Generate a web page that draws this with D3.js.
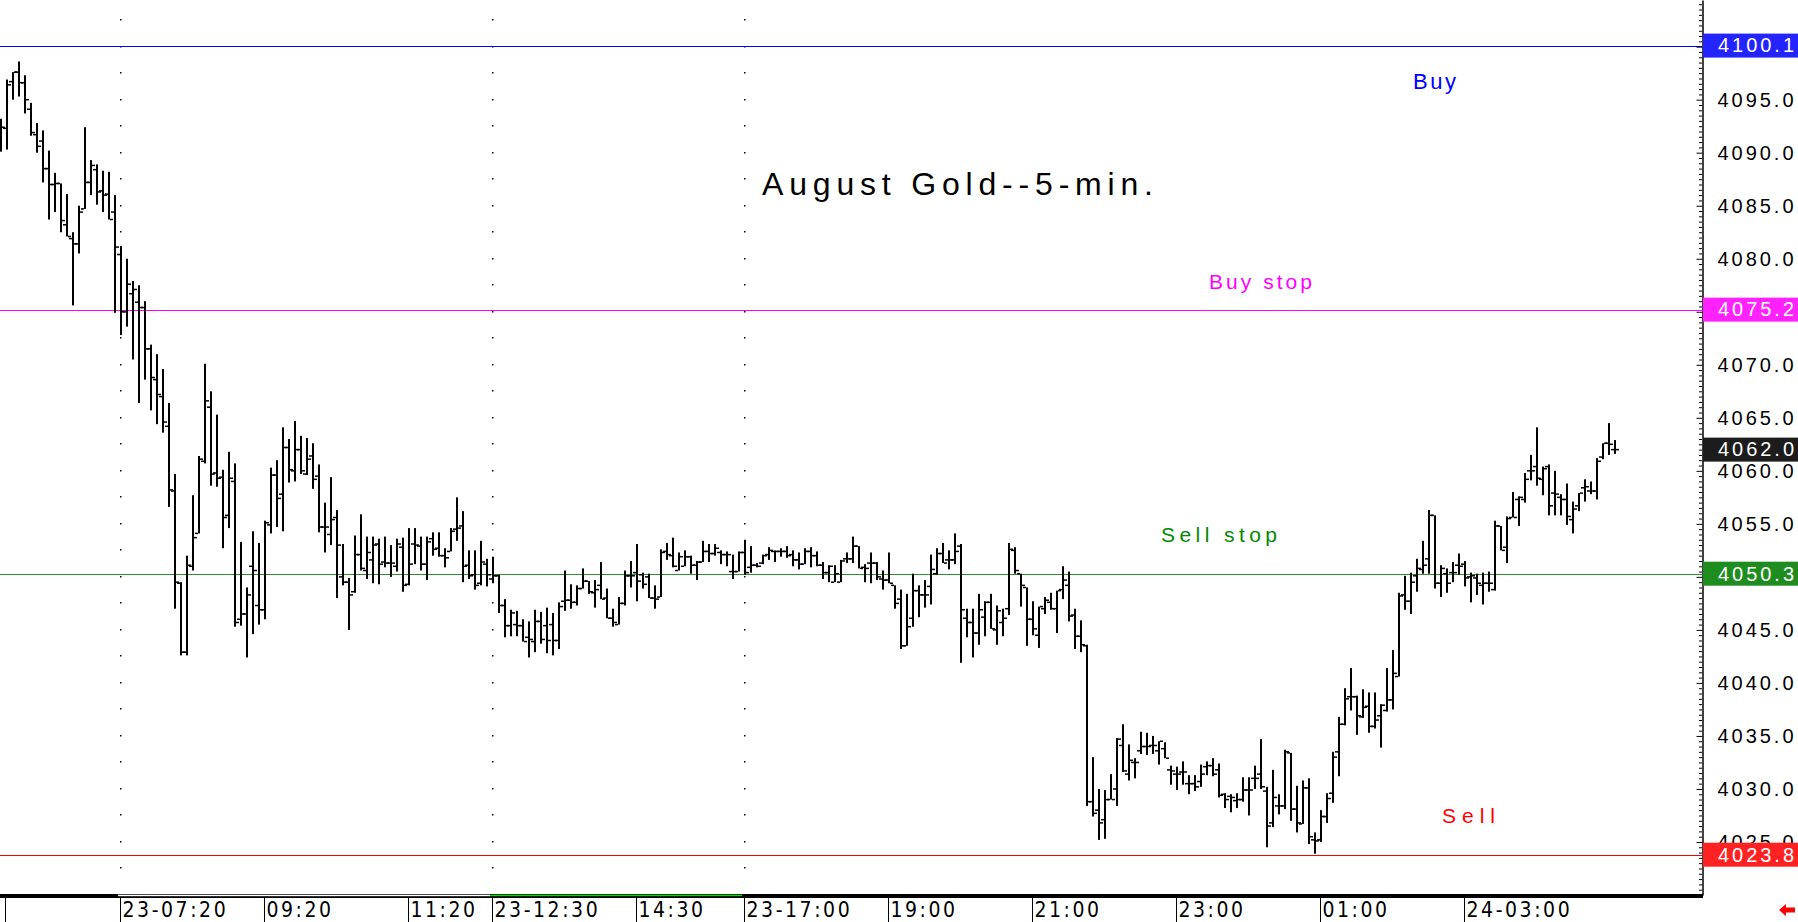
<!DOCTYPE html>
<html>
<head>
<meta charset="utf-8">
<script src="https://cdn.jsdelivr.net/npm/d3@7"></script>
<style>
  body { margin: 0; background: #fff; }
  svg { display: block; }
</style>
</head>
<body>
<svg id="chart" width="1798" height="922"></svg>
<script>
/* August gold, 5-minute OHLC bars. Bar by bar. */

const highV = [
  4093.2,4096.9,4097.6,4098.6,4097.3,4094.7,4092.8,4092.1,4090.2,4088.1,
  4087.1,4086.1,4082.5,4085.0,4092.4,4089.3,4088.9,4088.3,4088.2,4086.0,
  4081.2,4080.0,4077.9,4077.5,4076.0,4071.9,4071.0,4069.6,4066.4,4059.7,
  4049.5,4052.0,4057.7,4061.4,4070.1,4067.5,4065.3,4060.1,4061.8,4060.7,
  4053.3,4049.0,4054.3,4053.2,4055.3,4060.3,4061.0,4064.1,4063.0,4064.7,
  4063.3,4063.1,4062.6,4060.6,4057.0,4059.4,4056.3,4053.1,4049.9,4053.9,
  4055.9,4053.8,4053.8,4053.6,4053.8,4053.0,4053.6,4053.7,4054.6,4054.6,
  4053.8,4053.8,4054.2,4054.2,4052.7,4054.6,4057.5,4056.2,4052.5,4052.5,
  4053.4,4051.7,4051.9,4050.2,4047.9,4046.9,4046.8,4046.0,4045.8,4046.9,
  4046.7,4047.1,4046.6,4047.6,4050.6,4049.3,4049.2,4050.8,4049.6,4049.7,
  4051.4,4048.9,4047.0,4048.1,4050.6,4051.5,4053.1,4050.4,4050.3,4049.2,
  4052.6,4053.2,4053.7,4052.3,4052.5,4052.0,4051.5,4053.4,4053.1,4053.1,
  4052.5,4052.4,4052.1,4052.4,4053.5,4052.9,4051.3,4052.1,4052.8,4052.5,
  4052.7,4052.9,4052.5,4052.3,4052.7,4052.8,4052.4,4051.4,4051.1,4051.1,
  4051.6,4052.3,4053.8,4052.9,4051.2,4052.3,4051.4,4050.6,4052.3,4049.2,
  4048.8,4048.4,4050.3,4049.2,4049.7,4052.1,4052.7,4053.2,4052.5,4054.1,
  4053.1,4047.0,4047.0,4048.4,4047.7,4048.4,4047.3,4047.0,4053.2,4052.8,
  4050.3,4049.0,4047.7,4047.2,4048.1,4048.5,4048.7,4051.0,4050.5,4047.0,
  4045.9,4043.6,4033.0,4030.0,4029.9,4031.4,4034.8,4036.1,4034.2,4032.9,
  4035.4,4035.3,4035.0,4034.5,4034.4,4032.2,4032.1,4032.6,4031.3,4031.3,
  4032.3,4032.6,4032.9,4032.4,4029.6,4029.5,4029.6,4031.1,4031.1,4032.2,
  4034.7,4030.2,4031.8,4029.5,4033.7,4033.4,4030.3,4030.8,4031.0,4025.9,
  4028.0,4029.6,4033.5,4036.8,4039.5,4041.4,4038.8,4039.4,4039.1,4039.1,
  4038.0,4041.4,4043.1,4048.5,4050.1,4050.4,4051.7,4053.4,4056.3,4055.8,
  4051.1,4050.8,4051.4,4052.2,4051.5,4050.4,4050.3,4050.4,4050.5,4055.3,
  4054.8,4055.7,4058.0,4057.6,4059.8,4061.5,4064.1,4060.4,4060.6,4060.0,
  4057.8,4058.8,4057.1,4057.9,4059.2,4059.0,4061.2,4062.6,4064.5,4062.9
];

const lowV = [
  4090.1,4090.3,4095.0,4095.3,4093.7,4091.6,4090.0,4087.2,4083.7,4084.4,
  4082.5,4082.1,4075.6,4080.5,4084.7,4086.0,4085.1,4084.4,4083.7,4074.9,
  4072.8,4073.6,4070.5,4066.4,4068.6,4065.7,4064.4,4063.6,4056.6,4047.0,
  4042.6,4042.6,4050.6,4054.1,4060.7,4058.6,4058.5,4052.7,4054.6,4045.3,
  4045.4,4042.4,4044.6,4045.5,4046.0,4054.1,4054.7,4054.3,4058.9,4059.0,
  4059.7,4059.6,4058.3,4054.2,4052.3,4053.0,4048.0,4049.2,4045.0,4048.5,
  4050.6,4049.8,4049.4,4049.3,4050.9,4050.0,4050.5,4048.6,4049.2,4051.2,
  4050.6,4049.7,4052.0,4051.9,4050.9,4052.4,4053.4,4049.5,4049.8,4048.8,
  4049.2,4049.1,4049.4,4046.6,4044.3,4044.4,4044.4,4043.9,4042.4,4042.9,
  4043.7,4042.8,4042.6,4043.2,4046.8,4047.0,4047.3,4048.9,4048.4,4047.1,
  4047.9,4046.1,4045.3,4045.5,4047.3,4049.0,4047.7,4048.9,4048.0,4047.0,
  4048.1,4051.6,4050.9,4050.6,4051.0,4050.3,4049.7,4051.4,4051.4,4052.0,
  4051.2,4051.0,4049.8,4050.5,4050.2,4050.4,4050.9,4051.2,4051.6,4051.4,
  4051.9,4051.8,4051.0,4050.7,4051.2,4050.9,4051.0,4049.8,4049.5,4049.5,
  4049.5,4051.3,4051.3,4050.8,4049.5,4049.4,4049.7,4048.8,4049.4,4047.0,
  4043.2,4043.5,4045.3,4046.2,4047.1,4047.4,4050.2,4051.3,4050.7,4051.2,
  4041.9,4044.3,4042.4,4043.6,4044.4,4045.1,4043.6,4044.4,4046.4,4050.3,
  4047.2,4043.5,4044.5,4043.3,4046.5,4046.9,4044.7,4047.9,4045.8,4043.2,
  4042.9,4028.4,4027.4,4025.2,4025.3,4029.0,4028.4,4031.6,4030.8,4031.0,
  4033.3,4033.2,4033.3,4032.3,4032.9,4030.4,4029.9,4030.4,4029.5,4029.8,
  4030.2,4031.3,4031.2,4029.2,4028.2,4027.8,4028.2,4028.8,4027.5,4030.0,
  4030.0,4024.5,4026.4,4027.6,4028.1,4027.0,4025.9,4026.7,4024.8,4023.9,
  4025.0,4026.8,4028.7,4031.2,4036.0,4037.4,4035.1,4036.7,4035.3,4035.7,
  4033.9,4037.3,4037.5,4040.6,4046.9,4046.5,4048.6,4050.3,4050.3,4048.9,
  4048.1,4048.5,4049.5,4050.2,4049.1,4047.6,4048.3,4047.4,4048.6,4048.7,
  4052.5,4051.3,4055.6,4054.8,4057.0,4059.1,4058.6,4057.7,4055.8,4055.8,
  4055.8,4054.9,4054.1,4056.2,4057.1,4057.8,4057.3,4061.1,4061.5,4061.6
];

const openV = [
  4091.5,4092.3,4096.7,4097.6,4096.6,4094.1,4091.7,4091.1,4088.5,4087.0,
  4087.1,4083.2,4081.9,4081.4,4084.7,4087.2,4088.4,4086.4,4086.1,4084.4,
  4080.4,4075.0,4076.7,4075.9,4075.4,4071.5,4068.6,4067.0,4064.2,4058.1,
  4049.4,4042.9,4051.0,4054.1,4060.9,4066.0,4059.8,4059.4,4055.8,4059.0,
  4046.0,4046.5,4051.0,4047.3,4046.9,4054.9,4059.6,4057.8,4062.2,4060.0,
  4062.0,4059.7,4061.4,4059.5,4054.7,4054.0,4055.6,4050.0,4049.5,4048.6,
  4052.1,4050.6,4051.6,4053.1,4051.4,4051.3,4051.0,4052.8,4049.3,4053.1,
  4052.9,4051.2,4053.6,4052.7,4052.0,4052.4,4054.5,4054.8,4051.1,4050.2,
  4049.4,4051.2,4049.8,4050.1,4047.3,4045.4,4045.5,4045.4,4044.3,4043.9,
  4045.8,4045.4,4045.5,4044.0,4047.7,4047.8,4047.6,4048.9,4049.6,4048.5,
  4049.2,4048.0,4046.1,4045.5,4047.5,4050.1,4050.4,4050.2,4050.0,4048.0,
  4048.1,4052.4,4052.0,4050.6,4051.0,4051.9,4051.1,4051.4,4052.4,4052.2,
  4052.3,4052.1,4050.5,4050.5,4052.3,4050.9,4051.1,4051.3,4052.1,4052.4,
  4052.4,4052.4,4052.1,4051.6,4051.2,4052.4,4052.0,4051.1,4050.4,4049.5,
  4049.5,4051.7,4051.7,4052.9,4050.9,4051.3,4051.3,4049.8,4049.7,4049.2,
  4047.9,4043.5,4046.1,4048.7,4048.3,4049.1,4050.3,4052.2,4051.6,4051.6,
  4052.9,4046.1,4045.7,4044.7,4046.2,4047.6,4045.0,4045.7,4047.0,4052.5,
  4050.3,4049.0,4046.0,4044.5,4047.0,4047.6,4047.0,4048.8,4049.2,4046.4,
  4044.4,4043.5,4028.8,4028.0,4027.1,4029.0,4030.0,4034.1,4031.4,4032.5,
  4033.6,4034.0,4034.1,4033.6,4033.8,4031.8,4031.4,4031.6,4030.5,4030.5,
  4030.7,4032.1,4032.2,4031.8,4029.5,4029.3,4028.9,4029.0,4029.9,4031.0,
  4031.4,4029.8,4026.8,4028.4,4028.4,4033.4,4028.1,4026.7,4030.1,4025.2,
  4025.2,4027.4,4029.6,4033.5,4036.1,4038.7,4038.7,4036.8,4037.8,4035.9,
  4036.9,4037.4,4038.4,4040.6,4048.3,4047.7,4050.1,4050.7,4051.7,4055.8,
  4049.4,4050.3,4050.4,4051.1,4051.2,4050.0,4049.9,4049.2,4049.4,4048.8,
  4054.8,4052.8,4055.6,4057.3,4057.3,4060.0,4060.4,4059.2,4060.4,4057.9,
  4057.5,4057.3,4055.4,4056.7,4058.4,4058.1,4058.1,4061.3,4062.6,4062.0
];

const closeV = [
  4092.4,4096.4,4097.6,4096.6,4095.0,4091.9,4090.6,4088.5,4087.0,4087.1,
  4083.6,4082.1,4081.4,4084.4,4087.2,4088.8,4086.3,4086.0,4083.7,4081.1,
  4075.0,4077.6,4077.1,4075.4,4071.5,4068.8,4067.2,4064.6,4058.2,4049.5,
  4042.9,4051.1,4053.7,4061.1,4066.6,4059.7,4059.3,4055.6,4059.3,4045.7,
  4046.5,4048.3,4050.6,4046.9,4055.1,4059.6,4057.4,4062.2,4060.1,4062.0,
  4060.0,4061.1,4059.2,4054.7,4054.7,4055.4,4053.0,4049.5,4048.3,4052.1,
  4050.8,4052.3,4053.0,4051.2,4051.3,4051.3,4053.1,4049.2,4051.2,4053.0,
  4051.2,4053.3,4052.6,4052.0,4051.8,4054.3,4054.6,4051.0,4050.1,4049.2,
  4051.4,4050.2,4050.1,4047.3,4045.4,4046.6,4045.4,4043.9,4044.1,4045.8,
  4044.1,4044.0,4044.0,4047.2,4047.8,4047.6,4048.9,4049.6,4048.6,4048.8,
  4047.9,4046.1,4045.7,4047.5,4050.1,4050.1,4049.6,4049.3,4048.0,4047.9,
  4052.3,4052.1,4051.0,4051.9,4051.9,4051.1,4051.4,4052.4,4052.2,4052.7,
  4052.1,4052.1,4050.5,4052.3,4050.4,4051.1,4051.0,4052.0,4052.5,4052.4,
  4052.4,4052.0,4051.6,4051.2,4052.4,4052.0,4051.1,4050.4,4051.0,4050.3,
  4051.5,4051.7,4052.9,4050.8,4050.8,4051.3,4050.0,4049.7,4049.4,4047.5,
  4043.5,4045.3,4048.7,4048.3,4048.3,4050.7,4052.2,4051.3,4051.6,4052.4,
  4046.9,4045.7,4044.7,4046.9,4047.6,4045.1,4046.8,4046.1,4052.6,4050.6,
  4049.2,4046.0,4045.1,4047.2,4047.8,4047.0,4048.7,4049.7,4046.3,4044.4,
  4043.6,4028.8,4027.7,4026.8,4029.0,4029.0,4034.7,4031.7,4032.7,4032.5,
  4034.0,4034.0,4034.1,4034.5,4032.9,4031.7,4031.4,4031.6,4030.5,4030.2,
  4031.4,4032.2,4031.4,4029.4,4029.0,4029.2,4029.0,4029.9,4029.9,4031.0,
  4030.2,4026.5,4029.2,4028.4,4033.5,4028.1,4026.8,4030.1,4025.5,4025.1,
  4027.4,4029.1,4033.0,4036.1,4038.5,4038.7,4036.9,4037.7,4035.9,4036.5,
  4037.9,4038.4,4040.9,4048.2,4047.7,4049.5,4050.8,4051.1,4055.8,4049.4,
  4050.8,4049.4,4050.4,4051.0,4049.9,4050.1,4049.4,4049.4,4049.4,4054.8,
  4052.5,4055.5,4055.6,4057.5,4059.2,4060.0,4059.3,4060.2,4056.7,4057.8,
  4057.3,4055.7,4056.4,4057.9,4058.5,4058.1,4060.9,4062.6,4062.5,4062.0
];

// time axis: bar index of each labelled bar and its text
const tickIdx = [20, 44, 68, 82, 106, 124, 148, 172, 196, 220, 244];
const tickText = ['23-07:20', '09:20', '11:20', '23-12:30', '14:30', '23-17:00',
  '19:00', '21:00', '23:00', '01:00', '24-03:00'];
const gridIdx = [20, 82, 124];            // dotted session lines
const sessionBands = [[19.5, 81.5], [81.5, 123.5]];

// price levels drawn across the chart
const levelValues = [4100.1, 4075.2, 4050.3, 4023.8];
const levelNames = ['Buy', 'Buy stop', 'Sell stop', 'Sell'];
const priceTicks = d3.range(4025, 4101, 5);

const title = 'August Gold--5-min.';

/* ---- layout ---- */
const W = 1798, H = 922;
const PLOT_RIGHT = 1702, PLOT_BOTTOM = 895;
const BAR_STEP = 6;

const colors = {
  bar: '#000',
  levelLine: ['#0000ff', '#ff00ff', '#2f8f2f', '#ff0000'],
  levelText: ['#0000ff', '#ff00ff', '#008a00', '#ff0000'],
  levelBox: ['#2424ff', '#ff22ff', '#1e8c1e', '#ff2222'],
  lastBox: '#1c1c1c',
  bands: ['#ffffff', '#00dd00'],
};

// where each level's caption sits (start x, baseline offset from the line, width)
const levelLabelLayout = [
  { x: 1413, dy: 43, w: 43, size: 22 },
  { x: 1209, dy: -21, w: 103, size: 21 },
  { x: 1161, dy: -32, w: 116, size: 21 },
  { x: 1442, dy: -32, w: 53, size: 21 },
];

const svg = d3.select('#chart');
svg.append('rect').attr('width', W).attr('height', H).attr('fill', '#fff');

const n = highV.length;
const x = d3.scaleLinear().domain([0, n - 1]).range([1, 1 + BAR_STEP * (n - 1)]);
const y = d3.scaleLinear().domain([4020, 4104.4]).range([PLOT_BOTTOM, 0]);

const plot = svg.append('g');

// dotted vertical session lines
const dotPrices = d3.range(4020, 4103, 2.5);
gridIdx.forEach((gi) => {
  plot.append('g')
    .selectAll('rect')
    .data(dotPrices)
    .join('rect')
    .attr('x', Math.round(x(gi)) - 1)
    .attr('y', (d) => Math.round(y(d)) - 1)
    .attr('width', 1.5)
    .attr('height', 1.5)
    .attr('fill', '#000');
});

// level lines
plot.selectAll('line.level')
  .data(levelValues)
  .join('line')
  .attr('class', 'level')
  .attr('x1', 0)
  .attr('x2', PLOT_RIGHT)
  .attr('y1', (d) => Math.round(y(d)) + 0.5)
  .attr('y2', (d) => Math.round(y(d)) + 0.5)
  .attr('stroke', (d, i) => colors.levelLine[i])
  .attr('stroke-width', 1.2);

// OHLC bars
const bars = plot.append('g').selectAll('g').data(d3.range(n)).join('g');
bars.append('rect')
  .attr('x', (i) => x(i) - 1)
  .attr('y', (i) => y(highV[i]))
  .attr('width', 2)
  .attr('height', (i) => Math.max(1.5, y(lowV[i]) - y(highV[i])))
  .attr('fill', colors.bar);
bars.append('rect')
  .attr('x', (i) => x(i) - 4)
  .attr('y', (i) => y(openV[i]) - 0.75)
  .attr('width', 3)
  .attr('height', 1.5)
  .attr('fill', colors.bar);
bars.append('rect')
  .attr('x', (i) => x(i) + 1)
  .attr('y', (i) => y(closeV[i]) - 0.75)
  .attr('width', 3)
  .attr('height', 1.5)
  .attr('fill', colors.bar);

// title and level captions
svg.append('text')
  .attr('x', 762)
  .attr('y', 195)
  .attr('font-family', '"Liberation Sans", Arial, sans-serif')
  .attr('font-size', 32)
  .attr('textLength', 391)
  .attr('lengthAdjust', 'spacing')
  .attr('fill', '#000')
  .text(title);

svg.selectAll('text.levelName')
  .data(levelNames)
  .join('text')
  .attr('class', 'levelName')
  .attr('x', (d, i) => levelLabelLayout[i].x)
  .attr('y', (d, i) => y(levelValues[i]) + levelLabelLayout[i].dy)
  .attr('font-family', '"Liberation Sans", Arial, sans-serif')
  .attr('font-size', (d, i) => levelLabelLayout[i].size)
  .attr('textLength', (d, i) => levelLabelLayout[i].w)
  .attr('lengthAdjust', 'spacing')
  .attr('fill', (d, i) => colors.levelText[i])
  .text((d) => d);

// right price axis: minor ticks, then labelled major ticks
const minorAxis = d3.axisRight(y)
  .tickValues(d3.range(4020, 4104.5, 0.5).filter((v) => v % 5 !== 0))
  .tickSize(-3)
  .tickSizeOuter(0)
  .tickFormat('');
svg.append('g')
  .attr('transform', `translate(${PLOT_RIGHT},0)`)
  .call(minorAxis)
  .call((g) => g.select('.domain').remove());

const majorAxis = d3.axisRight(y)
  .tickValues(priceTicks)
  .tickSize(-6)
  .tickSizeOuter(0)
  .tickPadding(15)
  .tickFormat(d3.format('.1f'));
const gAxis = svg.append('g')
  .attr('transform', `translate(${PLOT_RIGHT + 0.5},0)`)
  .call(majorAxis);
gAxis.select('.domain').attr('stroke-width', 1.5);
gAxis.selectAll('text')
  .attr('font-family', '"Liberation Sans", Arial, sans-serif')
  .attr('font-size', 20)
  .attr('fill', '#000')
  .attr('textLength', 76)
  .attr('lengthAdjust', 'spacing');

// value boxes for levels and the last close
const boxValues = levelValues.concat([closeV[n - 1]]);
const boxColors = colors.levelBox.concat([colors.lastBox]);
const boxes = svg.append('g').selectAll('g').data(boxValues).join('g')
  .attr('transform', (d) => `translate(${PLOT_RIGHT + 1},${y(d)})`);
boxes.append('rect')
  .attr('x', 0)
  .attr('y', -12)
  .attr('width', 95)
  .attr('height', 24)
  .attr('fill', (d, i) => boxColors[i]);
boxes.append('text')
  .attr('x', 15)
  .attr('dy', '0.34em')
  .attr('font-family', '"Liberation Sans", Arial, sans-serif')
  .attr('font-size', 20)
  .attr('fill', '#fff')
  .attr('textLength', 76)
  .attr('lengthAdjust', 'spacing')
  .text((d) => d3.format('.1f')(d));

// bottom time axis
svg.append('rect')
  .attr('x', 0)
  .attr('y', PLOT_BOTTOM - 1)
  .attr('width', PLOT_RIGHT + 1)
  .attr('height', 4)
  .attr('fill', '#000');
svg.selectAll('rect.band')
  .data(sessionBands)
  .join('rect')
  .attr('class', 'band')
  .attr('x', (d) => x(d[0]))
  .attr('y', PLOT_BOTTOM - 0.3)
  .attr('width', (d) => x(d[1]) - x(d[0]))
  .attr('height', 1.5)
  .attr('fill', (d, i) => colors.bands[i]);

const xAxisG = svg.append('g');
xAxisG.append('line')
  .attr('x1', 5.5).attr('x2', 5.5)
  .attr('y1', PLOT_BOTTOM + 3).attr('y2', H)
  .attr('stroke', '#000');
const ticks = xAxisG.selectAll('g').data(tickIdx).join('g')
  .attr('transform', (d) => `translate(${Math.round(x(d)) - 0.5},0)`);
ticks.append('line')
  .attr('y1', PLOT_BOTTOM + 3)
  .attr('y2', H)
  .attr('stroke', '#000');
ticks.append('text')
  .attr('x', 2)
  .attr('y', 917)
  .attr('font-family', '"Liberation Sans Narrow", "DejaVu Sans Condensed", "Liberation Sans", sans-serif')
  .attr('font-size', 21)
  .attr('fill', '#000')
  .attr('textLength', (d, i) => tickText[i].length * 12.9)
  .attr('lengthAdjust', 'spacing')
  .text((d, i) => tickText[i]);

// little red scroll arrow, bottom right
svg.append('path')
  .attr('d', 'M1779,910 L1786,904 L1786,907.5 L1795,907.5 L1795,912.5 L1786,912.5 L1786,916 Z')
  .attr('fill', '#ff0000');
</script>
</body>
</html>
